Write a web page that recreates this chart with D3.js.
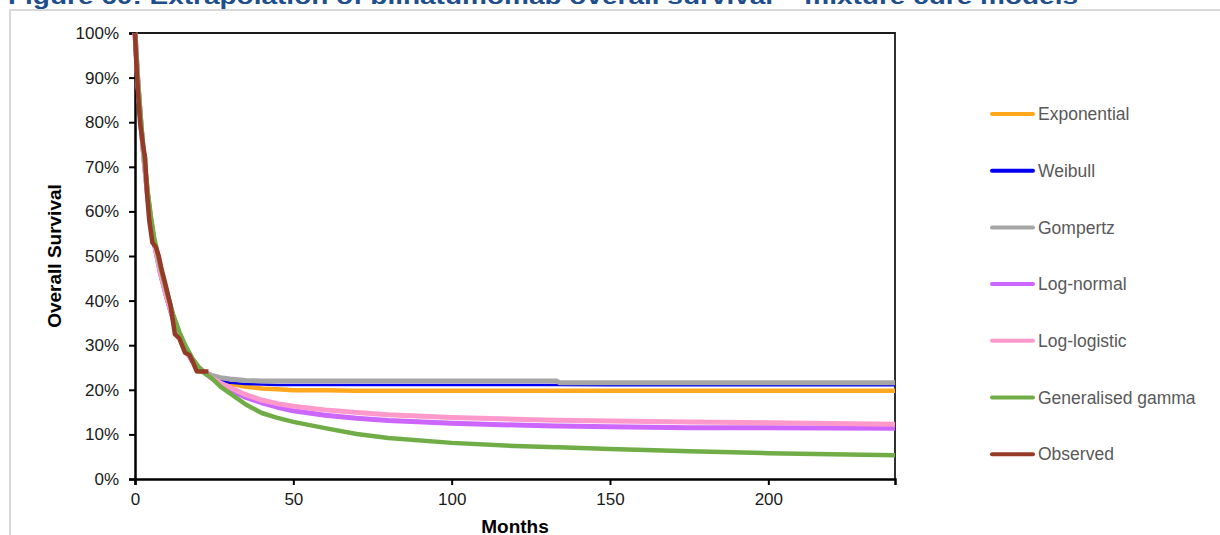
<!DOCTYPE html>
<html>
<head>
<meta charset="utf-8">
<script src="https://cdn.jsdelivr.net/npm/d3@7"></script>
<style>
  body { margin: 0; background: #fff; }
  svg { display: block; font-family: "Liberation Sans", Arial, sans-serif; }
</style>
</head>
<body>
<div id="chart"></div>
<script>
"use strict";
// time grid used by every fitted model (months)
const months = [0, 1, 2, 3, 4, 5, 6, 8, 10, 12, 14, 16, 18, 20, 22, 24, 27, 30, 35, 40, 45, 50, 60, 70, 80, 100, 120, 133, 134, 150, 175, 200, 240];

// survival in %, one value per month above
const exponential = [100, 88, 78.5, 70.5, 63.5, 57.8, 53.2, 46.3, 40.8, 36, 32, 29, 26.6, 25, 23.9, 23.1, 22.1, 21.4, 20.7, 20.3, 20.1, 19.9, 19.9, 19.8, 19.8, 19.8, 19.8, 19.8, 19.8, 19.8, 19.8, 19.8, 19.8];
const weibull = [100, 87.5, 77.8, 69.7, 62.7, 57, 52.4, 45.5, 40, 35.3, 31.4, 28.5, 26.2, 24.7, 23.6, 22.9, 22.1, 21.6, 21.3, 21.2, 21.1, 21.1, 21.1, 21.1, 21.1, 21.1, 21.1, 21.1, 21.1, 21, 21, 21, 21];
const gompertz = [100, 88, 78.5, 70.5, 63.5, 57.8, 53.2, 46.3, 40.8, 36, 32, 29, 26.6, 25, 23.9, 23.3, 22.7, 22.4, 22.1, 22, 22, 22, 22, 22, 22, 22, 22, 22, 21.6, 21.6, 21.6, 21.6, 21.6];
const logNormal = [100, 88, 78.5, 70.5, 63.5, 57.8, 53.2, 46.3, 40.8, 36, 32, 29, 26.6, 25, 23.9, 22.7, 21.3, 20, 18.3, 17.1, 16.1, 15.3, 14.3, 13.6, 13.1, 12.5, 12.1, 11.9, 11.9, 11.7, 11.5, 11.5, 11.4];
const logLogistic = [100, 88, 78.5, 70.5, 63.5, 57.8, 53.2, 46.3, 40.8, 36, 32, 29, 26.6, 25, 23.9, 22.8, 21.5, 20.5, 18.9, 17.7, 16.9, 16.3, 15.5, 14.9, 14.4, 13.8, 13.4, 13.2, 13.2, 13, 12.8, 12.6, 12.3];
const genGamma = [100, 88.5, 79.2, 71.4, 64.6, 59, 54.4, 47.6, 42, 37, 33, 29.8, 27.2, 25.2, 23.7, 22.8, 20.7, 19.2, 16.7, 14.8, 13.7, 12.8, 11.4, 10.1, 9.2, 8.1, 7.4, 7.1, 7.1, 6.7, 6.2, 5.8, 5.3];

// Kaplan-Meier observed
const obsMonths = [0, 0.5, 1, 1.6, 2.5, 3.2, 3.8, 4.5, 5.5, 6.6, 7.5, 8.4, 9.5, 10.5, 11.2, 12.6, 14, 15.8, 17.2, 18.4, 19.5, 23.2];
const obsSurvival = [100, 92, 86, 80, 75, 72, 64, 58, 53, 52, 50, 47, 44, 41, 39, 32.5, 31.5, 28.3, 27.8, 26, 24.1, 24.1];

const seriesNames = ["Exponential", "Weibull", "Gompertz", "Log-normal", "Log-logistic", "Generalised gamma", "Observed"];
const seriesColors = ["#FFA81E", "#0000F0", "#A6A6A6", "#CC66FF", "#FF99CC", "#70AD47", "#943A26"];
const seriesWidths = [4.5, 2.5, 5, 5, 5, 4.5, 4.5];

const xTicks = [0, 50, 100, 150, 200];
const yTicks = [0, 10, 20, 30, 40, 50, 60, 70, 80, 90, 100];

const width = 1220;
const height = 535;
const marginTop = 33;
const marginLeft = 135;
const plotRight = 895;
const plotBottom = 479;

const svg = d3.select("#chart").append("svg")
    .attr("width", width)
    .attr("height", height)
    .attr("viewBox", [0, 0, width, height]);

// light frame round the figure
svg.append("rect")
    .attr("x", 10)
    .attr("y", 10)
    .attr("width", width)
    .attr("height", height)
    .attr("fill", "none")
    .attr("stroke", "#D9D9D9")
    .attr("stroke-width", 2);

// caption, only its lower half shows at the top edge
svg.append("text")
    .attr("x", 8)
    .attr("y", 4)
    .attr("fill", "#1F4E8C")
    .attr("textLength", 1070)
    .attr("lengthAdjust", "spacingAndGlyphs")
    .style("font-size", "22px")
    .style("font-weight", "bold")
    .text("Figure 60: Extrapolation of blinatumomab overall survival \u2013 mixture cure models");

const x = d3.scaleLinear()
    .domain([0, 240])
    .range([marginLeft, plotRight]);

const y = d3.scaleLinear()
    .domain([0, 100])
    .range([plotBottom, marginTop]);

// plot border (top and right)
svg.append("path")
    .attr("d", `M${x(0)},${y(100)}H${x(240)}V${y(0)}`)
    .attr("fill", "none")
    .attr("stroke", "#1a1a1a")
    .attr("stroke-width", 1.8);

svg.append("g")
    .attr("transform", `translate(0,${plotBottom})`)
    .call(d3.axisBottom(x).tickValues(xTicks).tickSize(6).tickPadding(8))
    .call(g => g.select(".domain").attr("stroke", "#000").attr("stroke-width", 2.5))
    .call(g => g.selectAll(".tick line").attr("stroke", "#000").attr("stroke-width", 2))
    .call(g => g.selectAll(".tick text").attr("fill", "#1a1a1a").style("font-size", "17px").style("font-family", "Liberation Sans, Arial, sans-serif"));

svg.append("g")
    .attr("transform", `translate(${marginLeft},0)`)
    .call(d3.axisLeft(y).tickValues(yTicks).tickFormat(d => d + "%").tickSize(6).tickPadding(10))
    .call(g => g.select(".domain").attr("stroke", "#000").attr("stroke-width", 2.5))
    .call(g => g.selectAll(".tick line").attr("stroke", "#000").attr("stroke-width", 2))
    .call(g => g.selectAll(".tick text").attr("fill", "#1a1a1a").style("font-size", "17px").style("font-family", "Liberation Sans, Arial, sans-serif"));

svg.append("text")
    .attr("transform", `translate(61,${(marginTop + plotBottom) / 2}) rotate(-90)`)
    .attr("text-anchor", "middle")
    .style("font-size", "19px")
    .style("font-weight", "bold")
    .attr("fill", "#000")
    .text("Overall Survival");

svg.append("text")
    .attr("x", (marginLeft + plotRight) / 2)
    .attr("y", 533)
    .attr("text-anchor", "middle")
    .style("font-size", "19px")
    .style("font-weight", "bold")
    .attr("fill", "#000")
    .text("Months");

const modelValues = [exponential, weibull, gompertz, logNormal, logLogistic, genGamma];
const seriesData = modelValues.map(vals => months.map((m, i) => [m, vals[i]]));
seriesData.push(obsMonths.map((m, i) => [m, obsSurvival[i]]));

const line = d3.line()
    .x(d => x(d[0]))
    .y(d => y(d[1]));

svg.append("g")
    .attr("fill", "none")
    .attr("stroke-linejoin", "round")
    .selectAll("path")
    .data(seriesData)
    .join("path")
    .attr("stroke", (d, i) => seriesColors[i])
    .attr("stroke-width", (d, i) => seriesWidths[i])
    .attr("d", line);

// legend
const legendX = 992;
const legendY = 114;
const legendStep = 56.7;

const legend = svg.selectAll(".legend")
    .data(seriesNames)
    .join("g")
    .attr("class", "legend")
    .attr("transform", (d, i) => `translate(${legendX},${legendY + i * legendStep})`);

legend.append("line")
    .attr("x1", 0)
    .attr("x2", 41)
    .attr("stroke", (d, i) => seriesColors[i])
    .attr("stroke-width", 4)
    .attr("stroke-linecap", "round");

legend.append("text")
    .attr("x", 46)
    .attr("dy", "0.35em")
    .attr("fill", "#595959")
    .style("font-size", "17.5px")
    .text(d => d);
</script>
</body>
</html>
